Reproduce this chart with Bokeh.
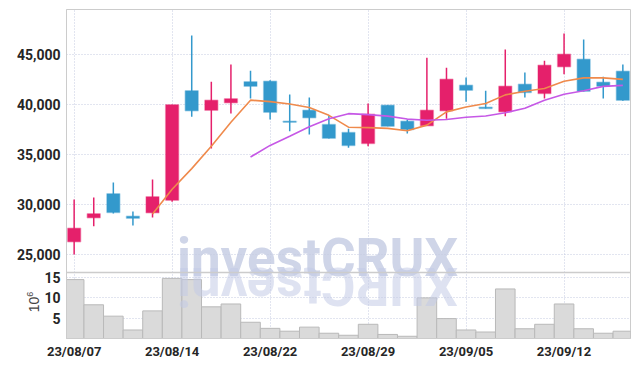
import math
from bokeh.plotting import figure
from bokeh.layouts import column
from bokeh.models import (Range1d, FixedTicker, NumeralTickFormatter, Label,
                          ColumnDataSource, Span, Div)
from bokeh.embed import file_html
from bokeh.resources import INLINE

# ---- data ----
dates = ["23/08/07", "23/08/08", "23/08/09", "23/08/10", "23/08/11",
         "23/08/14", "23/08/16", "23/08/17", "23/08/18",
         "23/08/21", "23/08/22", "23/08/23", "23/08/24", "23/08/25",
         "23/08/28", "23/08/29", "23/08/30", "23/08/31", "23/09/01",
         "23/09/04", "23/09/05", "23/09/06", "23/09/07", "23/09/08",
         "23/09/11", "23/09/12", "23/09/13", "23/09/14", "23/09/15"]
opens = [26270, 28670, 31070, 28830, 29170, 30430, 41370, 39430, 40170, 42270,
         42330, 38330, 39430, 38000, 37200, 36100, 39930, 38330, 37870, 39370,
         41930, 39730, 39270, 42030, 41100, 43770, 44530, 42230, 43330]
highs = [30500, 30700, 32200, 29300, 32500, 39970, 46900, 42270, 44000, 43370,
         42430, 41000, 40700, 38900, 37570, 40100, 39930, 38500, 44670, 43670,
         42700, 41370, 45500, 43200, 44370, 47100, 46500, 42770, 44000]
lows = [25000, 27830, 29100, 27900, 28700, 30270, 38770, 35600, 39100, 40600,
        38500, 37330, 37000, 36600, 35670, 35830, 37830, 37100, 37870, 38570,
        40270, 39600, 38830, 40700, 40600, 43030, 41300, 40600, 40370]
closes = [27630, 29070, 29200, 28630, 30770, 39970, 39370, 40430, 40570, 41830,
          39230, 38230, 38670, 36630, 35900, 39030, 37830, 37500, 39430, 42530,
          41430, 39600, 41830, 41200, 43930, 45030, 41330, 41830, 40430]
volumes = [14.5, 8.3, 5.5, 2.1, 6.8, 14.8, 14.5, 7.8, 8.5, 4.0,
           2.5, 1.8, 2.8, 1.3, 0.8, 3.5, 1.0, 0.55, 10.0, 4.9,
           2.1, 1.6, 12.2, 2.4, 3.5, 8.5, 2.4, 1.3, 1.8]  # millions
tick_index = [0, 5, 10, 15, 20, 25]
tick_labels = ["23/08/07", "23/08/14", "23/08/22", "23/08/29", "23/09/05", "23/09/12"]
price_ticks = [25000, 30000, 35000, 40000, 45000]
volume_ticks = [5, 10, 15]
volume_tick_labels = ["5", "10", "15"]

UP = "#e5206b"
DOWN = "#3399cc"
GRID = "#c5cbe0"
BORDER = "#cccccc"
TICK_FONT = "Roboto"
TICK_COLOR = "#262626"

# panel geometry (pixels) and panel value bounds
FRAME_W = 564
PRICE_PX = 263
VOL_PX = 66
FRAME_H = PRICE_PX + VOL_PX
PRICE_TOP, PRICE_PANEL_BOTTOM = 49500, 23200
VOL_PANEL_TOP = 16.25

n = len(dates)
xs = list(range(n))
cols = [UP if c >= o else DOWN for o, c in zip(opens, closes)]
tops = [max(o, c) for o, c in zip(opens, closes)]
bots = [min(o, c) for o, c in zip(opens, closes)]


def moving_avg(vals, w):
    out = []
    for i in range(len(vals)):
        if i < w - 1:
            out.append(float("nan"))
        else:
            out.append(sum(vals[i - w + 1:i + 1]) / w)
    return out


ma5 = moving_avg(closes, 5)
ma10 = moving_avg(closes, 10)

src = ColumnDataSource(dict(x=xs, o=opens, h=highs, l=lows, c=closes,
                            top=tops, bot=bots, color=cols, vol=volumes,
                            ma5=ma5, ma10=ma10))

price_start = PRICE_TOP - (PRICE_TOP - PRICE_PANEL_BOTTOM) * FRAME_H / PRICE_PX
vol_end = VOL_PANEL_TOP * FRAME_H / VOL_PX


def vol_on_price_axis(v):
    # position of a volume value on the shared left axis (same scale as the "vol" range)
    return price_start + v * (PRICE_TOP - price_start) / vol_end


vol_tick_pos = [vol_on_price_axis(v) for v in volume_ticks]

p = figure(frame_width=FRAME_W, frame_height=FRAME_H,
           x_range=Range1d(-0.39, n - 1 + 0.39),
           y_range=Range1d(price_start, PRICE_TOP),
           output_backend="svg", toolbar_location=None,
           min_border_left=66, min_border_right=1, min_border_top=9, min_border_bottom=0)
p.extra_y_ranges = {"vol": Range1d(0, vol_end)}

# axes
p.xaxis.ticker = FixedTicker(ticks=tick_index)
p.xaxis.major_label_overrides = {i: t for i, t in zip(tick_index, tick_labels)}
p.yaxis.ticker = FixedTicker(ticks=price_ticks + vol_tick_pos)
p.yaxis.formatter = NumeralTickFormatter(format="0,0")
p.yaxis.major_label_overrides = {pos: t for pos, t in zip(vol_tick_pos, volume_tick_labels)}
for ax in (p.xaxis, p.yaxis):
    ax.axis_line_color = BORDER
    ax.major_tick_line_color = None
    ax.minor_tick_line_color = None
    ax.major_tick_out = 0
    ax.major_tick_in = 0
    ax.major_label_text_font = TICK_FONT
    ax.major_label_text_font_style = "bold"
    ax.major_label_text_color = TICK_COLOR
p.yaxis.major_label_text_font_size = "14px"
p.xaxis.major_label_text_font_size = "13px"
p.yaxis.major_label_standoff = 6
p.xaxis.major_label_standoff = 5

# grids
p.xgrid.ticker = FixedTicker(ticks=tick_index)
p.ygrid.ticker = FixedTicker(ticks=price_ticks + vol_tick_pos)
for g in (p.xgrid, p.ygrid):
    g.grid_line_color = GRID
    g.grid_line_dash = "1 2"
p.outline_line_color = BORDER

# watermark
wm = Label(x=251, y=PRICE_PANEL_BOTTOM + 1450, x_units="screen", text="investCRUX",
           text_font="Roboto", text_font_style="bold", text_font_size="53px",
           text_color="#cfd5e8", text_align="center", text_baseline="alphabetic",
           level="image")
p.add_layout(wm)

# volume bars
p.vbar(x="x", top="vol", bottom=0, width=1.0, fill_color="#dadada",
       line_color="#b9b9b9", line_width=1, source=src, y_range_name="vol")

# reflection of the watermark
refl = Label(x=251, y=53, x_units="screen", y_units="screen",
             text="XURCtsevni", angle=math.pi, text_font="Roboto", text_font_style="bold",
             text_font_size="53px", text_color="#c3cae6", text_alpha=0.55,
             text_align="center", text_baseline="alphabetic")
p.add_layout(refl)

# separator between panels
p.add_layout(Span(location=PRICE_PANEL_BOTTOM, dimension="width",
                  line_color=BORDER, line_width=1.5))

# candles
p.segment(x0="x", y0="l", x1="x", y1="h", color="color", line_width=1.5, source=src)
p.vbar(x="x", top="top", bottom="bot", width=0.66, fill_color="color",
       line_color="color", line_alpha=0.35, line_width=1.5, source=src)
p.line(x="x", y="ma5", color="#ef8a4c", line_width=1.6, source=src)
p.line(x="x", y="ma10", color="#c658e6", line_width=1.6, source=src)

# unit label of the volume panel (rotated, over the left margin)
unit = Div(text="10<sup style='font-size:9px'>6</sup>", width=30, height=16,
           styles={"position": "absolute", "left": "10px", "top": "289px",
                   "transform": "rotate(-90deg)", "font-family": "Liberation Sans",
                   "font-size": "14px", "color": "#444444", "line-height": "16px",
                   "text-align": "center"})

layout = column(p, unit)
open("out.html", "w").write(file_html(layout, INLINE))
